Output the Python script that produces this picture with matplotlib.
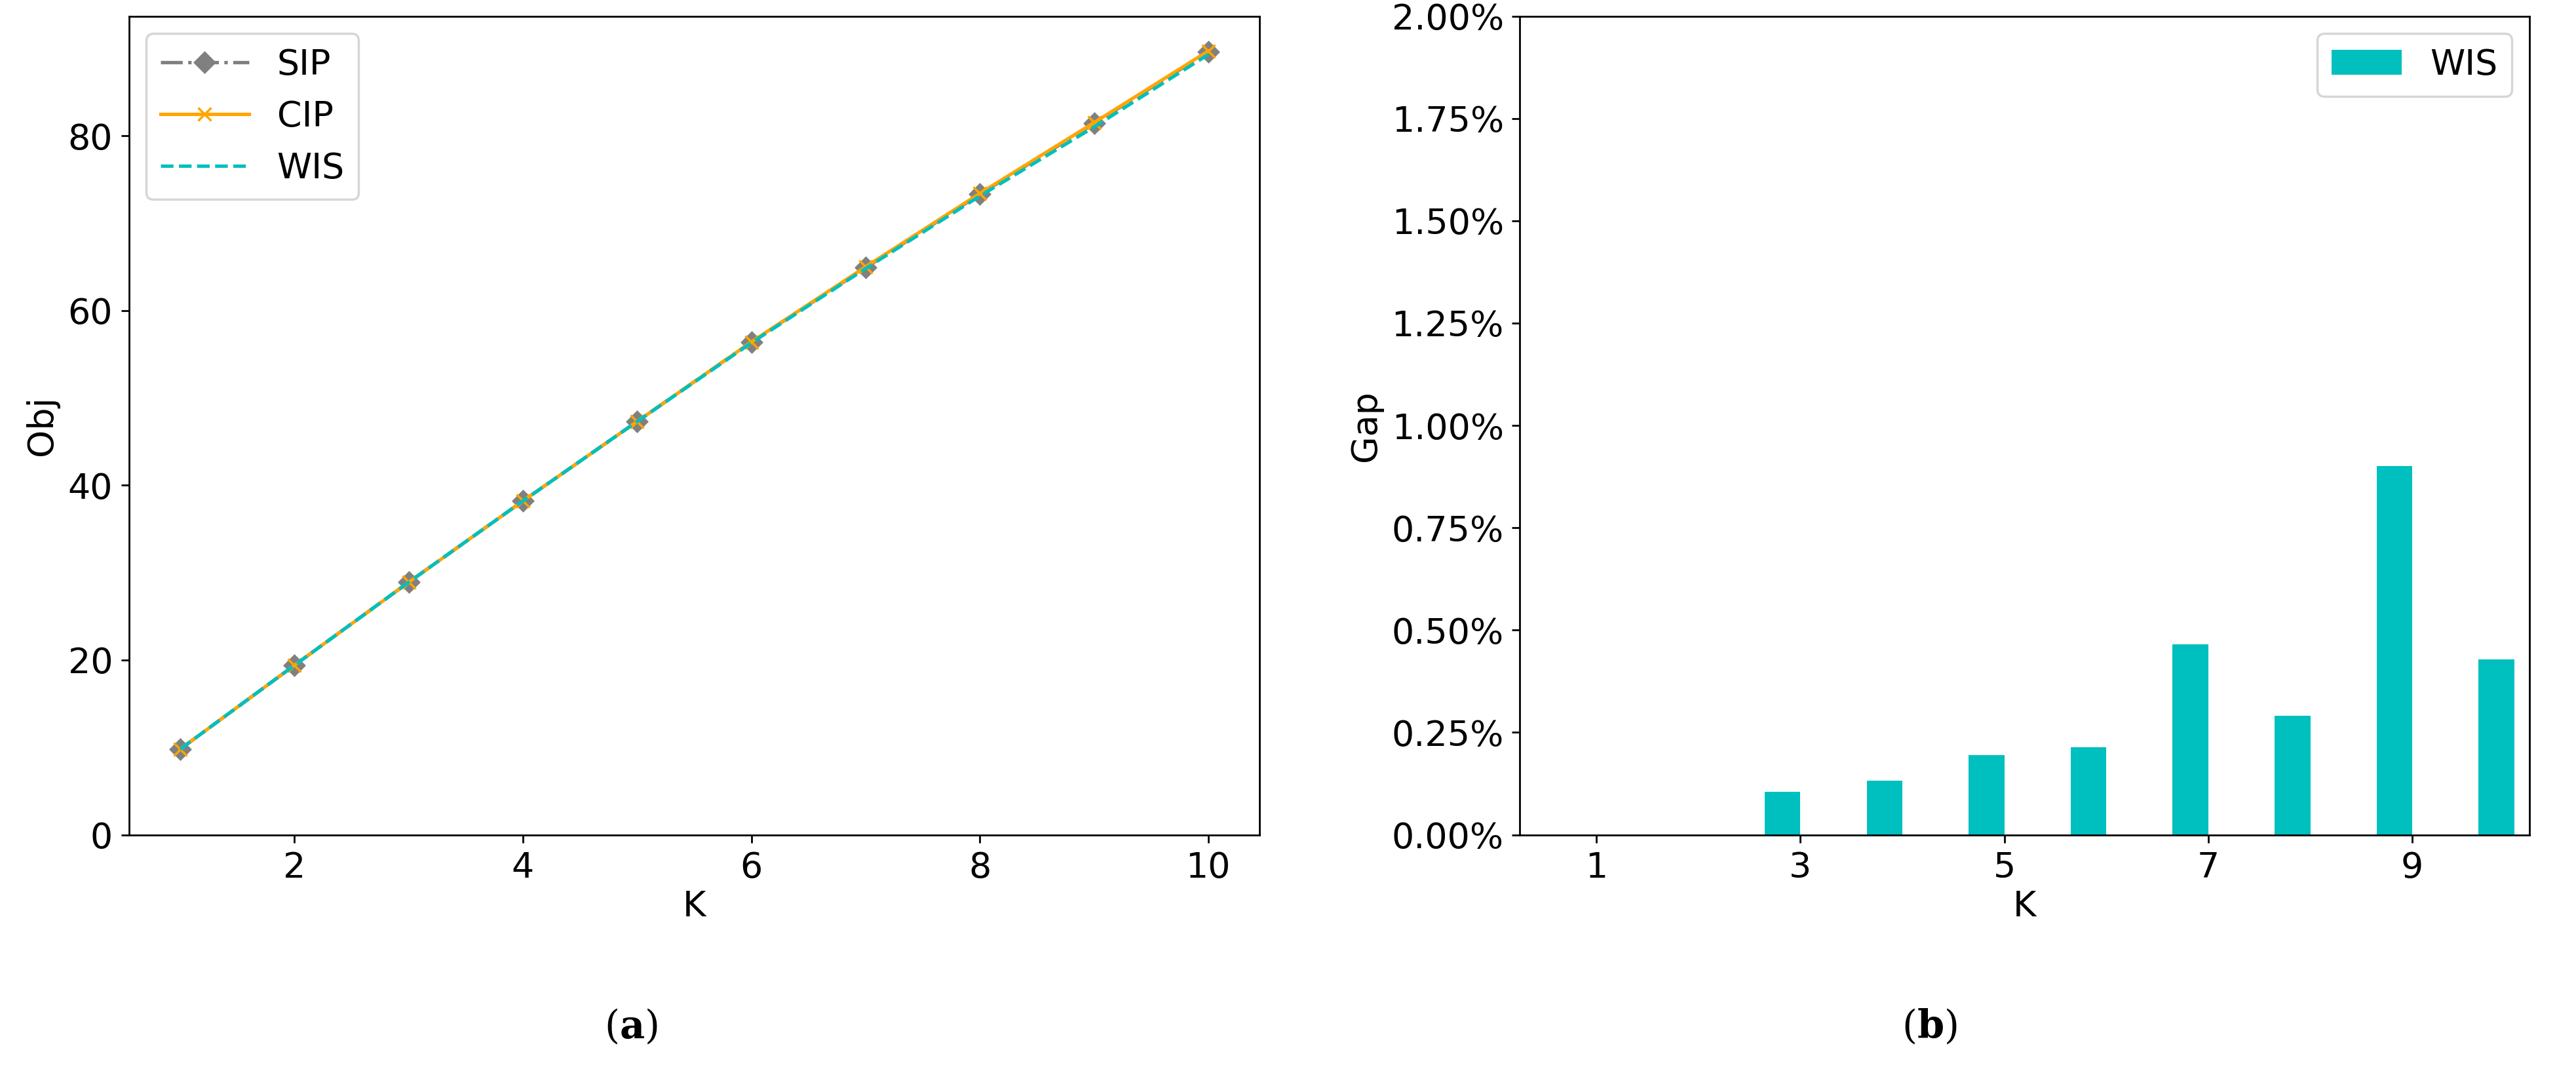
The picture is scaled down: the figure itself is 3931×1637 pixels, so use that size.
import matplotlib
matplotlib.use("Agg")
import matplotlib.pyplot as plt
import matplotlib.ticker as ticker

K = [1, 2, 3, 4, 5, 6, 7, 8, 9, 10]
SIP = [9.8, 19.4, 28.9, 38.2, 47.3, 56.4, 64.9, 73.3, 81.4, 89.6]
CIP = [9.8, 19.4, 28.9, 38.2, 47.3, 56.4, 65.0, 73.4, 81.5, 89.7]
WIS = [9.8, 19.4, 28.9, 38.2, 47.3, 56.3, 64.8, 73.1, 81.0, 89.3]
GAP = [0.0, 0.0, 0.00105, 0.00133, 0.00194, 0.00214, 0.00465, 0.00291, 0.00901, 0.00429]

plt.rcParams["font.size"] = 15.5
plt.rcParams["mathtext.fontset"] = "dejavuserif"

fig = plt.figure(figsize=(15.724, 6.548))
ax1 = fig.add_axes([0.050, 0.222, 0.439, 0.763])
ax2 = fig.add_axes([0.590, 0.222, 0.392, 0.763])

ax1.plot(K, SIP, color="gray", linestyle="-.", marker="D", label="SIP")
ax1.plot(K, CIP, color="orange", linestyle="-", marker="x", label="CIP")
ax1.plot(K, WIS, color="c", linestyle="--", label="WIS")
ax1.set_ylim(bottom=0)
ax1.set_xlabel("K", labelpad=2)
ax1.set_ylabel("Obj")
ax1.legend(loc="upper left", handlelength=2.5)

ax2.bar(K, GAP, width=-0.35, align="edge", color="c", label="WIS")
ax2.set_xlim(0.25, 10.15)
ax2.set_ylim(0, 0.02)
ax2.set_xticks([1, 3, 5, 7, 9])
ax2.yaxis.set_major_formatter(ticker.PercentFormatter(xmax=1, decimals=2))
ax2.set_xlabel("K", labelpad=2)
ax2.set_ylabel("Gap")
ax2.legend(loc="upper right")

fig.text(0.245, 0.043, r"($\mathbf{a}$)", ha="center", va="center", fontsize=17, family="DejaVu Serif")
fig.text(0.749, 0.043, r"($\mathbf{b}$)", ha="center", va="center", fontsize=17, family="DejaVu Serif")

fig.savefig("out.png", dpi=250)
